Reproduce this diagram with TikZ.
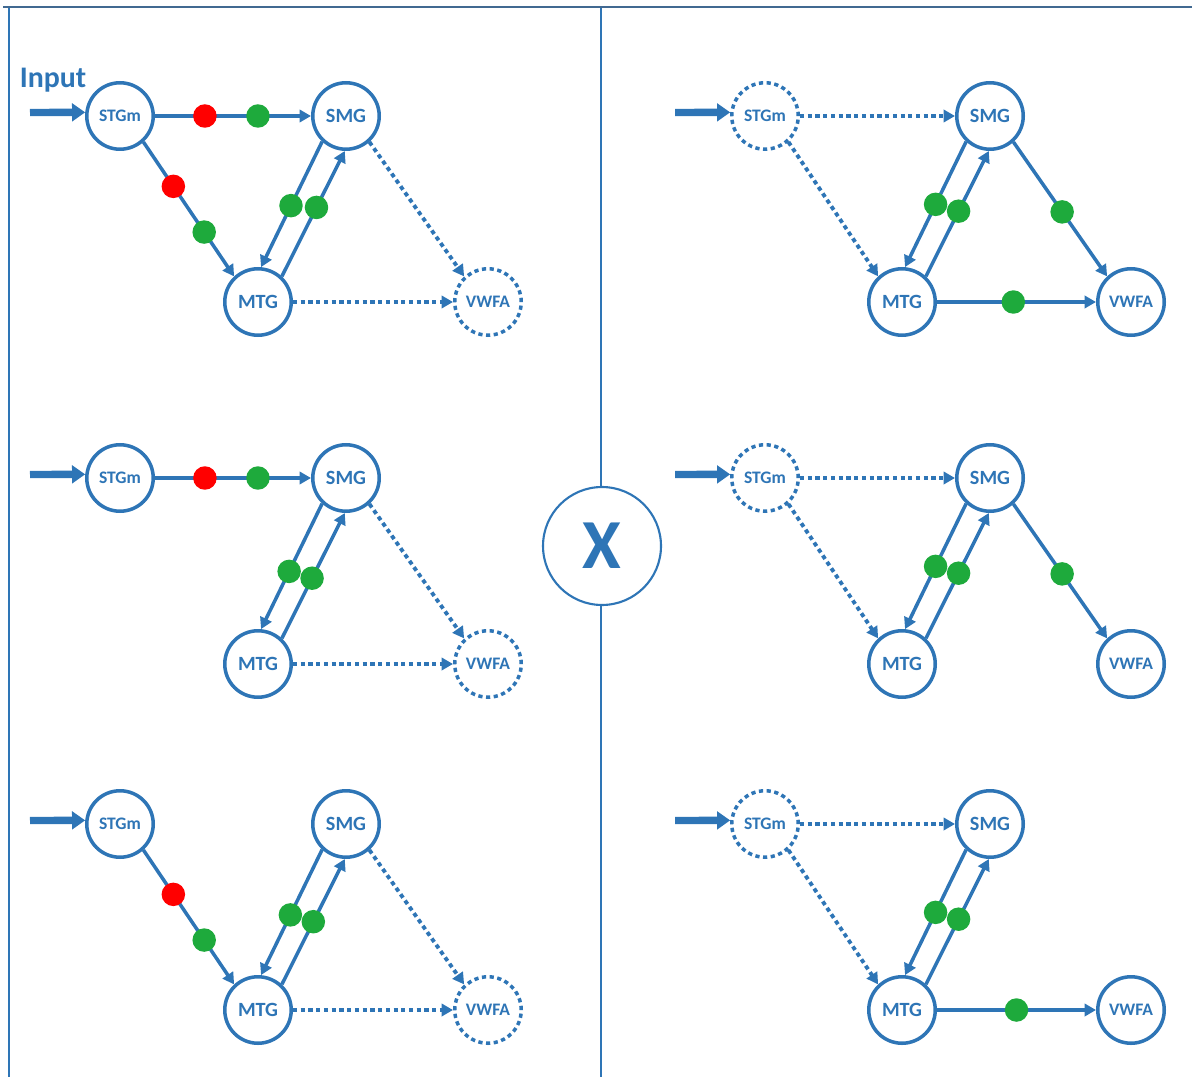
\documentclass[tikz,border=0pt]{standalone}
\usepackage{fontspec}
\setmainfont{Carlito}
\usetikzlibrary{arrows.meta,positioning}

\definecolor{netblue}{RGB}{46,117,182}
\definecolor{framegray}{RGB}{65,105,145}
\definecolor{dotred}{RGB}{255,0,0}
\definecolor{dotgreen}{RGB}{30,170,60}

\tikzset{
  region/.style={circle, draw=netblue, line width=2pt, fill=white, minimum size=1.33cm, inner sep=0pt,
    text=netblue, font=\bfseries\fontsize{11.5}{12}\selectfont},
  silent/.style={region, dash pattern=on 2.4pt off 2pt},
  smalltxt/.style={font=\bfseries\fontsize{10}{10}\selectfont},
  link/.style={draw=netblue, line width=2pt, -{Triangle[length=6.5pt,width=7pt]}},
  weak/.style={link, line width=2.2pt, dash pattern=on 2.4pt off 2pt},
  inarrow/.style={draw=netblue, line width=4.2pt, -{Triangle[length=7.5pt,width=10pt]}},
  rdot/.style={circle, fill=dotred, minimum size=0.47cm, inner sep=0pt},
  gdot/.style={circle, fill=dotgreen, minimum size=0.47cm, inner sep=0pt},
}

\begin{document}
\begin{tikzpicture}[x=0.02cm, y=-0.02cm]
  \useasboundingbox (0,0) rectangle (1192,1077);
  % frame and divider
  \coordinate (tl) at (3,7);
  \coordinate (tr) at (1192,7);
  \coordinate (lt) at (9,7);
  \coordinate (lb) at (9,1077);
  \coordinate (dt) at (601,7);
  \coordinate (db) at (601,1077);
  \draw[netblue, line width=0.9pt] (lt) -- (lb);
  \draw[netblue, line width=0.9pt] (dt) -- (db);
  \draw[framegray, line width=1.4pt] (tl) -- (tr);
  \node[circle, draw=netblue, line width=1.2pt, fill=white, minimum size=2.36cm, inner sep=0pt,
    text=netblue, font=\bfseries\fontsize{40}{40}\selectfont] (cross) at (602,546) {X};

  % left, top: all paths
  \begin{scope}
    \node[font=\bfseries\fontsize{17}{17}\selectfont, text=netblue] (input) at (53,80) {Input};
    \node[region, smalltxt] (stg1) at (120,116) {STGm};
    \node[region] (smg1) at (346,116) {SMG};
    \node[region] (mtg1) at (258,302) {MTG};
    \node[silent, smalltxt] (vwfa1) at (488,302) {VWFA};
    \coordinate (in1) at (30,112.5);
    \draw[inarrow] (in1) -- (stg1.174);
    \draw[link] (stg1) -- node[rdot, pos=.32] (r1a) {} node[gdot, pos=.66] (g1a) {} (smg1);
    \draw[link] (stg1.-48) -- node[rdot, pos=.33] (r1b) {} node[gdot, pos=.67] (g1b) {} (mtg1.133);
    \draw[link] (smg1.227) -- node[gdot, pos=.51] (g1c) {} (mtg1.85);
    \draw[link] (mtg1.47) -- node[gdot, pos=.55] (g1d) {} (smg1.268);
    \draw[weak] (smg1.-48) -- (vwfa1.133);
    \draw[weak] (mtg1) -- (vwfa1);
  \end{scope}

  % left, middle: no STGm -> MTG
  \begin{scope}[shift={(0,362)}]
    \node[region, smalltxt] (stg2) at (120,116) {STGm};
    \node[region] (smg2) at (346,116) {SMG};
    \node[region] (mtg2) at (258,302) {MTG};
    \node[silent, smalltxt] (vwfa2) at (488,302) {VWFA};
    \coordinate (in2) at (30,112.5);
    \draw[inarrow] (in2) -- (stg2.174);
    \draw[link] (stg2) -- node[rdot, pos=.32] (r2a) {} node[gdot, pos=.66] (g2a) {} (smg2);
    \draw[link] (smg2.227) -- node[gdot, pos=.54] (g2c) {} (mtg2.85);
    \draw[link] (mtg2.47) -- node[gdot, pos=.48] (g2d) {} (smg2.268);
    \draw[weak] (smg2.-48) -- (vwfa2.133);
    \draw[weak] (mtg2) -- (vwfa2);
  \end{scope}

  % left, bottom: no STGm -> SMG
  \begin{scope}[shift={(0,708)}]
    \node[region, smalltxt] (stg3) at (120,116) {STGm};
    \node[region] (smg3) at (346,116) {SMG};
    \node[region] (mtg3) at (258,302) {MTG};
    \node[silent, smalltxt] (vwfa3) at (488,302) {VWFA};
    \coordinate (in3) at (30,112.5);
    \draw[inarrow] (in3) -- (stg3.174);
    \draw[link] (stg3.-48) -- node[rdot, pos=.33] (r3b) {} node[gdot, pos=.67] (g3b) {} (mtg3.133);
    \draw[link] (smg3.227) -- node[gdot, pos=.52] (g3c) {} (mtg3.85);
    \draw[link] (mtg3.47) -- node[gdot, pos=.5] (g3d) {} (smg3.268);
    \draw[weak] (smg3.-48) -- (vwfa3.133);
    \draw[weak] (mtg3) -- (vwfa3);
  \end{scope}

  % right, top
  \begin{scope}[shift={(644,0)}]
    \node[silent, smalltxt] (stg4) at (121,116) {STGm};
    \node[region] (smg4) at (346,116) {SMG};
    \node[region] (mtg4) at (258,302) {MTG};
    \node[region, smalltxt] (vwfa4) at (487,302) {VWFA};
    \coordinate (in4) at (31,112.5);
    \draw[inarrow] (in4) -- (stg4.174);
    \draw[weak] (stg4) -- (smg4);
    \draw[weak] (stg4.-48) -- (mtg4.133);
    \draw[link] (smg4.227) -- node[gdot, pos=.5] (g4c) {} (mtg4.85);
    \draw[link] (mtg4.47) -- node[gdot, pos=.52] (g4d) {} (smg4.268);
    \draw[link] (smg4.-48) -- node[gdot, pos=.52] (g4e) {} (vwfa4.133);
    \draw[link] (mtg4) -- node[gdot, pos=.48] (g4f) {} (vwfa4);
  \end{scope}

  % right, middle: no MTG -> VWFA
  \begin{scope}[shift={(644,362)}]
    \node[silent, smalltxt] (stg5) at (121,116) {STGm};
    \node[region] (smg5) at (346,116) {SMG};
    \node[region] (mtg5) at (258,302) {MTG};
    \node[region, smalltxt] (vwfa5) at (487,302) {VWFA};
    \coordinate (in5) at (31,112.5);
    \draw[inarrow] (in5) -- (stg5.174);
    \draw[weak] (stg5) -- (smg5);
    \draw[weak] (stg5.-48) -- (mtg5.133);
    \draw[link] (smg5.227) -- node[gdot, pos=.5] (g5c) {} (mtg5.85);
    \draw[link] (mtg5.47) -- node[gdot, pos=.52] (g5d) {} (smg5.268);
    \draw[link] (smg5.-48) -- node[gdot, pos=.52] (g5e) {} (vwfa5.133);
  \end{scope}

  % right, bottom: no SMG -> VWFA
  \begin{scope}[shift={(644,708)}]
    \node[silent, smalltxt] (stg6) at (121,116) {STGm};
    \node[region] (smg6) at (346,116) {SMG};
    \node[region] (mtg6) at (258,302) {MTG};
    \node[region, smalltxt] (vwfa6) at (487,302) {VWFA};
    \coordinate (in6) at (31,112.5);
    \draw[inarrow] (in6) -- (stg6.174);
    \draw[weak] (stg6) -- (smg6);
    \draw[weak] (stg6.-48) -- (mtg6.133);
    \draw[link] (smg6.227) -- node[gdot, pos=.5] (g6c) {} (mtg6.85);
    \draw[link] (mtg6.47) -- node[gdot, pos=.52] (g6d) {} (smg6.268);
    \draw[link] (mtg6) -- node[gdot, pos=.5] (g6f) {} (vwfa6);
  \end{scope}
\end{tikzpicture}
\end{document}
